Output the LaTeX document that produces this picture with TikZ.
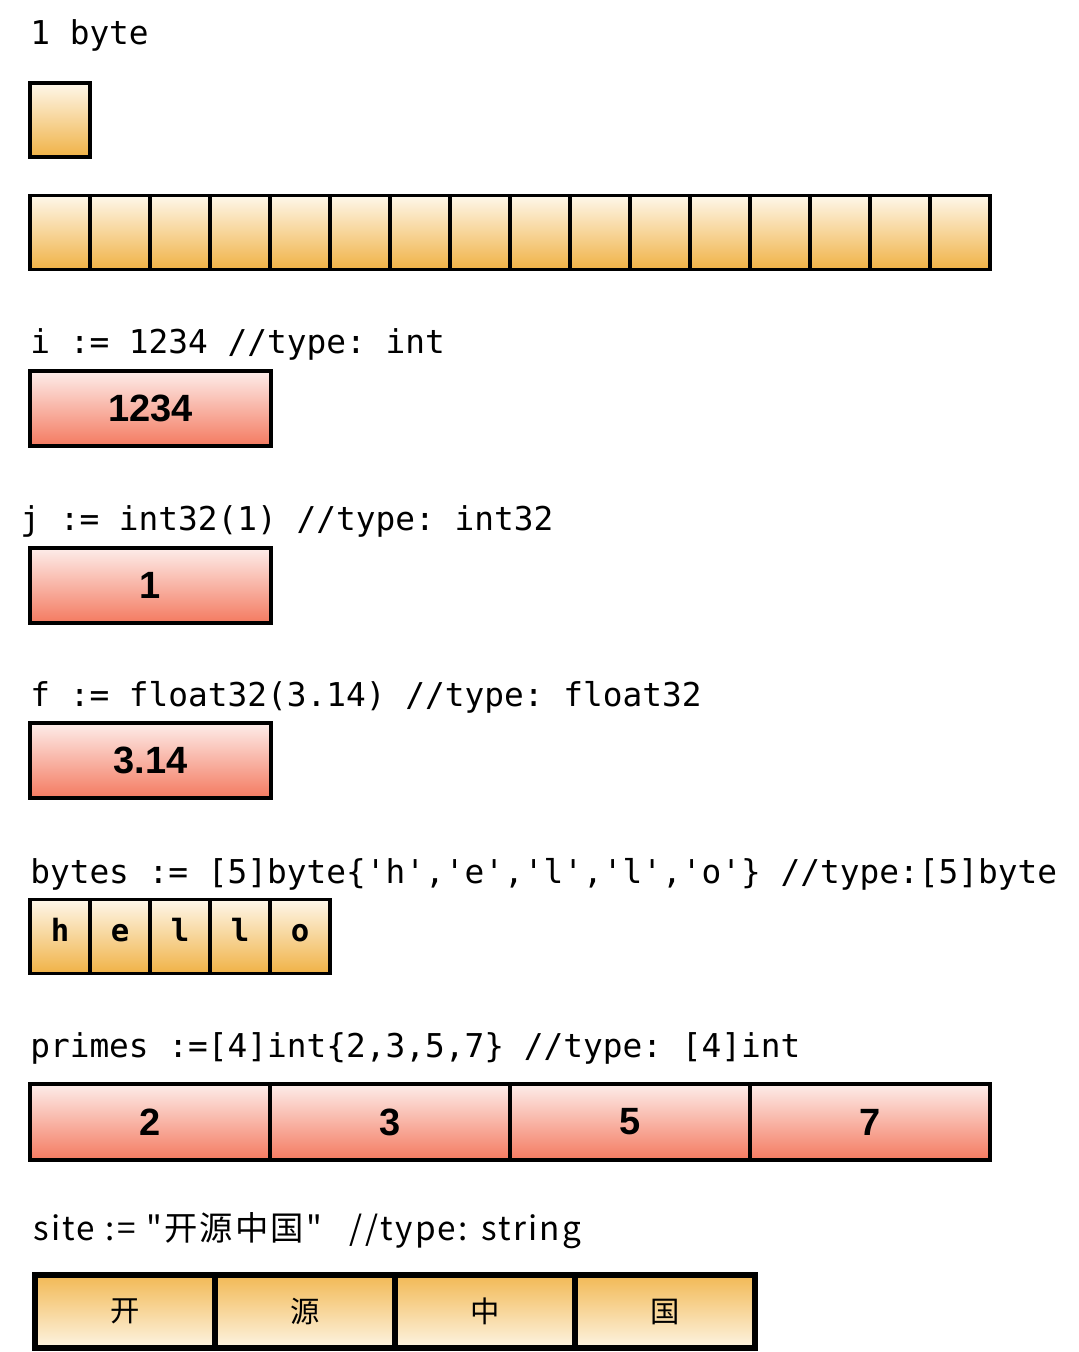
\documentclass[tikz,border=0pt]{standalone}
\usepackage{fontspec}
\setmainfont{Liberation Sans}
\setmonofont{DejaVu Sans Mono}
\newfontfamily\cjk{Noto Sans CJK SC}
\newfontfamily\sitefont{Noto Sans CJK SC}[LetterSpace=6.5,WordSpace=1.1]
\definecolor{otop}{HTML}{FEF7EA}
\definecolor{obot}{HTML}{F0B246}
\definecolor{rtop}{HTML}{FDEDEA}
\definecolor{rbot}{HTML}{F47A60}
\definecolor{stop}{HTML}{F2B955}
\definecolor{sbot}{HTML}{FDF4E2}
\begin{document}
\begin{tikzpicture}[x=0.75pt,y=-0.75pt,
  code/.style={anchor=base west, inner sep=0, font=\fontsize{24.6}{28}\selectfont\ttfamily},
  ocell/.style={draw=black, line width=2.4pt, top color=otop, bottom color=obot,
    minimum width=45pt, minimum height=55.5pt, inner sep=0, outer sep=0,
    text height=8pt, text depth=0pt,
    font=\fontsize{23}{26}\selectfont\ttfamily\bfseries},
  rbox/.style={draw=black, line width=2.7pt, top color=rtop, bottom color=rbot,
    minimum width=180.75pt, minimum height=56.25pt, inner sep=0, outer sep=0,
    font=\fontsize{28.5}{30}\selectfont\bfseries},
  pcell/.style={rbox, minimum width=180pt, minimum height=57pt},
  scell/.style={draw=black, line width=4.5pt, top color=stop, bottom color=sbot,
    minimum width=135pt, minimum height=54.75pt, inner sep=0, outer sep=0,
    font=\fontsize{22}{26}\selectfont\cjk},
]
\useasboundingbox (0,0) rectangle (1078,1352);

% 1 byte
\node[code] (l1) at (30,45) {1 byte};
\node[ocell] (b1) at (60,120) {};

% 16 bytes
\foreach \k in {0,...,15} {
  \node[ocell] (r\k) at ({60+60*\k},232.5) {};
}

% i
\node[code] (li) at (30,353) {i := 1234 //type: int};
\node[rbox] (vi) at (150.5,408.5) {1234};

% j
\node[code] (lj) at (20,530) {j := int32(1) //type: int32};
\node[rbox] (vj) at (150.5,585.5) {1};

% f
\node[code] (lf) at (30,706) {f := float32(3.14) //type: float32};
\node[rbox] (vf) at (150.5,760.5) {3.14};

% bytes
\node[code] (lb) at (30,883) {bytes := [5]byte\{'h','e','l','l','o'\} //type:[5]byte};
\foreach \c [count=\i from 0] in {h,e,l,l,o} {
  \node[ocell] (c\i) at ({60+60*\i},936.5) {\c};
}

% primes
\node[code] (lp) at (30,1057) {primes :=[4]int\{2,3,5,7\} //type: [4]int};
\foreach \p [count=\i from 0] in {2,3,5,7} {
  \node[pcell] (p\i) at ({150+240*\i},1122) {\p};
}

% site
\node[anchor=base west, inner sep=0, font=\fontsize{25}{28}\selectfont\sitefont] (ls) at (33,1240)
  {site := "开源中国"\hspace{21pt}//type: string};
\foreach \s [count=\i from 0] in {开,源,中,国} {
  \node[scell] (s\i) at ({125+180*\i},1311.5) {\s};
}
\end{tikzpicture}
\end{document}
